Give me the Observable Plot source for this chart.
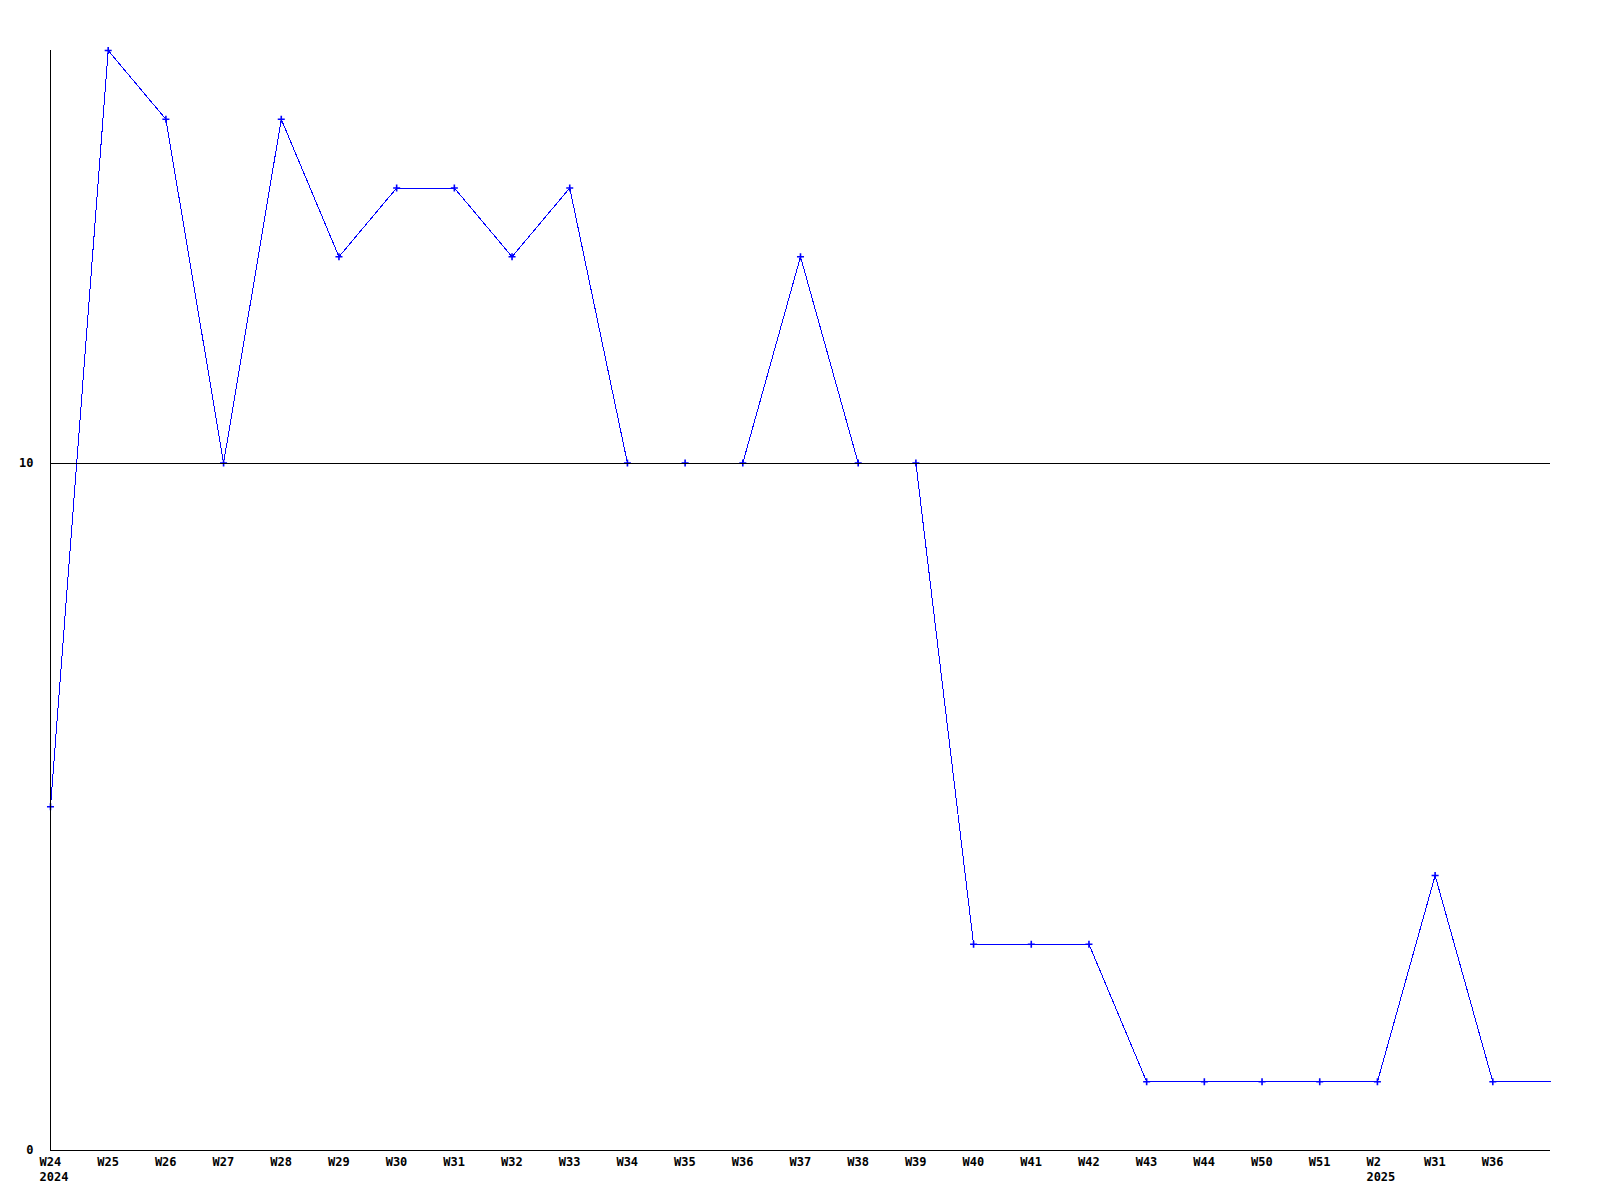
<!DOCTYPE html>
<html>
<head>
<meta charset="utf-8">
<script src="https://cdn.jsdelivr.net/npm/d3@7"></script>
<script src="https://cdn.jsdelivr.net/npm/@observablehq/plot@0.6"></script>
<style>
  html, body { margin: 0; padding: 0; background: #fff; }
  #chart { width: 1600px; height: 1200px; }
</style>
</head>
<body>
<div id="chart"></div>
<script>
// Week labels (categories) and the year shown beneath some of them
const weeks = ["W24","W25","W26","W27","W28","W29","W30","W31","W32","W33","W34","W35","W36","W37","W38","W39","W40","W41","W42","W43","W44","W50","W51","W2","W31","W36",""];
const years = ["2024","","","","","","","","","","","","","","","","","","","","","","","2025","","",""];
const values = [5,16,15,10,15,13,14,14,13,14,10,10,10,13,10,10,3,3,3,1,1,1,1,1,4,1,1];
const yTicks = [0, 10];

const data = values.map((v, i) => ({i, v, label: weeks[i], year: years[i]}));
const labeled = data.filter(d => d.label !== "");

const font = "'DejaVu Sans Mono', monospace";

const chart = Plot.plot({
  width: 1600,
  height: 1200,
  marginLeft: 50,
  marginRight: 50,
  marginTop: 50,
  marginBottom: 50,
  style: {fontFamily: font, fontSize: "12px", fontWeight: "bold", background: "#fff", color: "#000"},
  x: {type: "linear", domain: [0, weeks.length - 1], axis: null},
  y: {domain: [0, 16], axis: null},
  marks: [
    Plot.line(data, {x: "i", y: "v", stroke: "#0000ff", strokeWidth: 1, shapeRendering: "crispEdges"}),
    Plot.dot(labeled, {x: "i", y: "v", symbol: "plus", r: 2.4, stroke: "#0000ff", strokeWidth: 1.6}),
    Plot.ruleY([10], {stroke: "#000", strokeWidth: 1, shapeRendering: "crispEdges"}),
    Plot.ruleY([0], {stroke: "#000", strokeWidth: 1.5, shapeRendering: "crispEdges"}),
    Plot.ruleX([0], {y1: 0, y2: 16, stroke: "#000", strokeWidth: 1.5, shapeRendering: "crispEdges"}),
    Plot.text(yTicks, {x: 0, y: d => d, text: d => String(d), textAnchor: "end", dx: -17, fontWeight: "bold", fontFamily: font, fontSize: 12, fill: "#000"}),
    Plot.text(labeled, {x: "i", y: 0, text: "label", textAnchor: "start", dx: -11, dy: 12, fontWeight: "bold", fontFamily: font, fontSize: 12, fill: "#000"}),
    Plot.text(labeled.filter(d => d.year), {x: "i", y: 0, text: "year", textAnchor: "start", dx: -11, dy: 27, fontWeight: "bold", fontFamily: font, fontSize: 12, fill: "#000"})
  ]
});

document.getElementById("chart").appendChild(chart);
</script>
</body>
</html>
